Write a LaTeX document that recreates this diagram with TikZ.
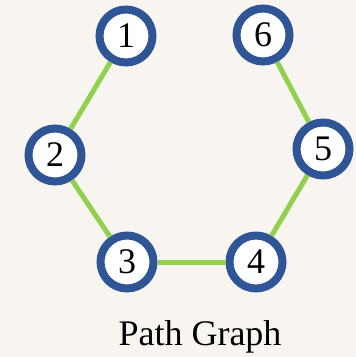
\documentclass[tikz,border=0pt]{standalone}
\usepackage{fontspec}
\setmainfont{Liberation Serif}
\usepackage{tikz}
\usetikzlibrary{arrows}

\definecolor{paper}{HTML}{F8F5F1}
\definecolor{ringblue}{HTML}{2F5597}
\definecolor{edgegreen}{HTML}{92D050}

\begin{document}
\begin{tikzpicture}[x=0.5pt,y=-0.5pt,auto,
  main node/.style={circle,draw=ringblue,fill=white,line width=4pt,
    minimum size=26.5pt,inner sep=0pt,font=\fontsize{18}{20}\selectfont}]

  \fill[paper] (0,0) rectangle (356,357);
  \useasboundingbox (0,0) rectangle (356,357);

  \node[main node] (1) at (126,36) {1};
  \node[main node] (2) at (55,155) {2};
  \node[main node] (3) at (127,262) {3};
  \node[main node] (4) at (256,262) {4};
  \node[main node] (5) at (323,149) {5};
  \node[main node] (6) at (263,35) {6};

  \path[draw=edgegreen,line width=2.5pt]
    (1) edge (2)
    (2) edge (3)
    (3) edge (4)
    (4) edge (5)
    (5) edge (6);

  \node (title) at (200,337) {\fontsize{18}{20}\selectfont Path Graph};
\end{tikzpicture}
\end{document}
